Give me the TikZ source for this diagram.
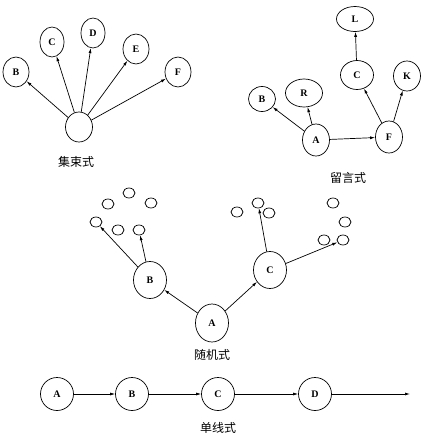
\documentclass[tikz,border=0pt]{standalone}
\usepackage{fontspec}
\setmainfont{Liberation Serif}
\newfontfamily\cjk{Noto Sans CJK SC}
\usetikzlibrary{shapes.geometric,arrows.meta}

\begin{document}
\begin{tikzpicture}[x=1pt,y=-1pt,line width=0.7pt,
  every node/.style={font=\bfseries\fontsize{10}{10}\selectfont},
  nd/.style={draw,ellipse,inner sep=0pt,minimum width=26pt,minimum height=30pt},
  big/.style={nd,minimum width=33pt,minimum height=37pt},
  dot/.style={draw,ellipse,inner sep=0pt,minimum width=12pt,minimum height=10pt},
  arr/.style={-{Latex[length=5pt,width=3pt]}},
  title/.style={font=\cjk\fontsize{12}{12}\selectfont}]
\useasboundingbox (0,0) rectangle (424,437);
% 集束式
\node[nd, minimum width=27pt] (s)  at (79,127) {};
\node[nd] (sB) at (16,72)  {B};
\node[nd, minimum width=24pt] (sC) at (52,42)  {C};
\node[nd, minimum width=24pt] (sD) at (93,33)  {D};
\node[nd] (sE) at (136,49) {E};
\node[nd] (sF) at (178,72) {F};
\foreach \t in {sB,sC,sD,sE,sF}
  \draw[arr] (s) -- (\t);
\node[title] (tS) at (76,162) {集束式};
% 留言式
\node[nd, minimum width=27pt, minimum height=32pt] (lA) at (316,140) {A};
\node[nd, minimum width=27pt, minimum height=25pt] (lB) at (262,99) {B};
\node[nd, minimum width=37pt, minimum height=28pt] (lR) at (304,93) {R};
\node[nd, minimum width=27pt, minimum height=32pt] (lF) at (389,137) {F};
\node[nd, minimum width=33pt, minimum height=29pt] (lC) at (357,75) {C};
\node[nd, minimum width=27pt] (lK) at (407,76) {K};
\node[nd, minimum width=37pt, minimum height=25pt] (lL) at (355,19) {L};
\draw[arr] (lA) -- (lB);
\draw[arr] (lA) -- (lR);
\draw[arr] (lA) -- (lF);
\draw[arr] (lF) -- (lC);
\draw[arr] (lF) -- (lK);
\draw[arr] (lC) -- (lL);
\node[title] (tL) at (348,178) {留言式};
% 随机式
\node[big, minimum height=38pt] (rA) at (212,323) {A};
\node[big] (rB) at (150,280) {B};
\node[big] (rC) at (270,270) {C};
\node[dot] (b1) at (129,193) {};
\node[dot] (b2) at (108,204) {};
\node[dot] (b3) at (151,203) {};
\node[dot] (b4) at (96,222)  {};
\node[dot] (b5) at (118,230) {};
\node[dot] (b6) at (139,230) {};
\node[dot] (c1) at (237,212) {};
\node[dot] (c2) at (258,203) {};
\node[dot] (c3) at (269,213) {};
\node[dot] (c4) at (333,203) {};
\node[dot] (c5) at (345,222) {};
\node[dot] (c6) at (324,240) {};
\node[dot] (c7) at (343,240) {};
\draw[arr] (rA) -- (rB);
\draw[arr] (rA) -- (rC);
\draw[arr] (rB) -- (b4);
\draw[arr] (rB) -- (b6);
\draw[arr] (rC) -- (c2);
\draw[arr] (rC) -- (c7);
\node[title] (tR) at (212,355) {随机式};
% 单线式
\node[nd, minimum width=33pt, minimum height=33pt] (dA) at (57,394)  {A};
\node[nd, minimum width=33pt, minimum height=33pt] (dB) at (132,394) {B};
\node[nd, minimum width=33pt, minimum height=33pt] (dC) at (218,394) {C};
\node[nd, minimum width=33pt, minimum height=33pt] (dD) at (315,394) {D};
\coordinate (dE) at (410,394);
\draw[arr] (dA) -- (dB);
\draw[arr] (dB) -- (dC);
\draw[arr] (dC) -- (dD);
\draw[arr] (dD) -- (dE);
\node[title] (tD) at (218,428) {单线式};
\end{tikzpicture}
\end{document}
